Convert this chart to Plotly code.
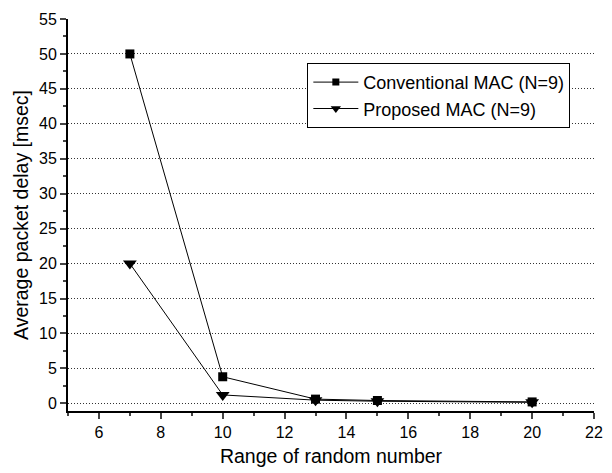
import plotly.graph_objects as go

x_vals = [7, 10, 13, 15, 20]
conventional = [50, 3.8, 0.6, 0.4, 0.2]
proposed = [20, 1.2, 0.45, 0.3, 0.15]
names = ["Conventional MAC (N=9)", "Proposed MAC (N=9)"]
y_ticks = list(range(0, 56, 5))
grid_ticks = list(range(0, 51, 5))
x_ticks = list(range(6, 23, 2))

fig = go.Figure()
fig.add_trace(go.Scatter(x=x_vals, y=conventional, name=names[0], mode="lines+markers",
                         line=dict(color="black", width=1), showlegend=False,
                         marker=dict(symbol="square", size=9, color="black")))
fig.add_trace(go.Scatter(x=x_vals, y=proposed, name=names[1], mode="lines+markers",
                         line=dict(color="black", width=1), showlegend=False,
                         marker=dict(symbol="triangle-down", size=12, color="black")))
# legend entries with smaller symbols
fig.add_trace(go.Scatter(x=[None], y=[None], name=names[0], mode="lines+markers",
                         line=dict(color="black", width=1),
                         marker=dict(symbol="square", size=7, color="black")))
fig.add_trace(go.Scatter(x=[None], y=[None], name=names[1], mode="lines+markers",
                         line=dict(color="black", width=1),
                         marker=dict(symbol="triangle-down", size=9, color="black")))
# invisible trace to activate grid axis
fig.add_trace(go.Scatter(x=[None], y=[None], yaxis="y2", showlegend=False, hoverinfo="skip"))

font = "Arial, Liberation Sans, sans-serif"
fig.update_layout(
    width=612, height=473,
    margin=dict(l=68, r=9, t=19, b=61),
    plot_bgcolor="white", paper_bgcolor="white",
    font=dict(family=font, color="black", size=16),
    xaxis=dict(range=[5, 22], tickvals=x_ticks, ticks="outside", ticklen=6, tickwidth=1.5,
               showline=True, linecolor="black", linewidth=2, showgrid=False, zeroline=False,
               minor=dict(dtick=1, ticks="outside", ticklen=3, tickwidth=1.5),
               title=dict(text="Range of random number", font=dict(size=19.5), standoff=9),
               tickfont=dict(size=16)),
    yaxis=dict(range=[-1.1, 55], tickvals=y_ticks, ticks="outside", ticklen=6, tickwidth=1.5,
               showline=True, linecolor="black", linewidth=2, showgrid=False, zeroline=False,
               minor=dict(tickvals=[v + 2.5 for v in y_ticks[:-1]], ticks="outside", ticklen=3, tickwidth=1.5),
               title=dict(text="Average packet delay [msec]", font=dict(size=19.5), standoff=5),
               tickfont=dict(size=16)),
    yaxis2=dict(range=[-1.1, 55], overlaying="y", tickvals=grid_ticks, showticklabels=False,
                showgrid=True, gridcolor="#333333", griddash="1px,2px", gridwidth=1, zeroline=False,
                showline=False, ticks=""),
    legend=dict(x=0.455, y=0.888, xanchor="left", yanchor="top",
                bordercolor="black", borderwidth=1, bgcolor="white",
                font=dict(size=18), tracegroupgap=0, itemwidth=45),
    showlegend=True,
)
fig.write_html("out.html")
